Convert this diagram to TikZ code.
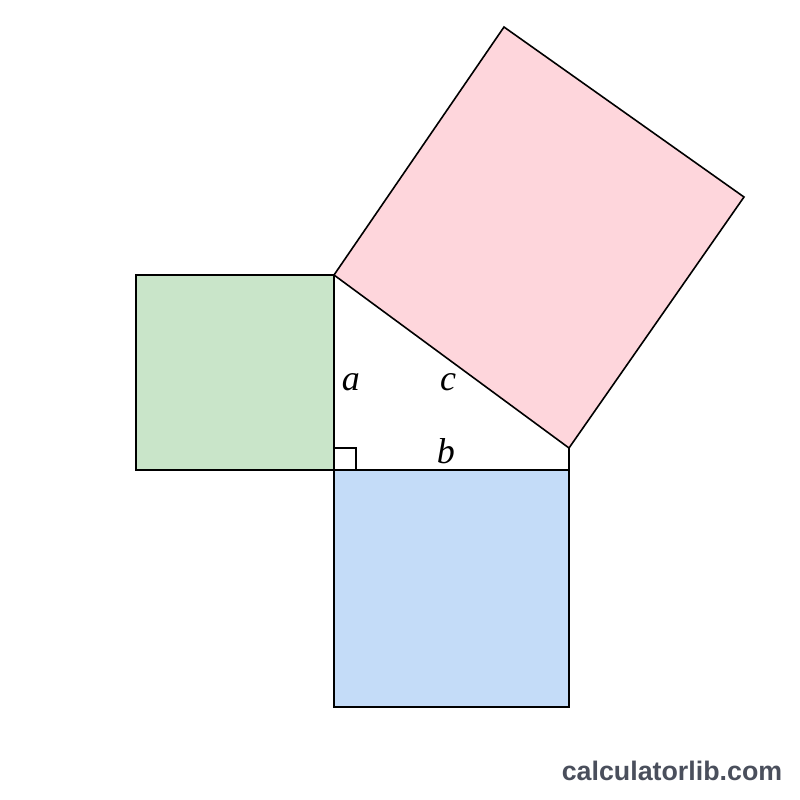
\documentclass[tikz,border=0pt]{standalone}
\usepackage{fontspec}
\setmainfont{Liberation Serif}
\newfontfamily\marksans{Liberation Sans}
\definecolor{sqgreen}{RGB}{201,229,201}
\definecolor{sqpink}{RGB}{254,214,220}
\definecolor{sqblue}{RGB}{196,220,248}
\definecolor{markgray}{RGB}{74,79,92}

\begin{document}
\begin{tikzpicture}[style=thick,x=0.5pt,y=-0.5pt]
\newcommand{\lsize}{\fontsize{18}{20}\selectfont}
\useasboundingbox (0,0) rectangle (800,800);
\tikzstyle{every node}=[inner sep=0pt,anchor=base]
% triangle corners
\coordinate (A) at (334,275);
\coordinate (C) at (334,470);
\coordinate (B) at (569,470);
% square on c
\coordinate (P_1) at (504,27);
\coordinate (P_2) at (744,197);
\coordinate (P_3) at (569,448);
\draw [fill=sqgreen] (136,275) rectangle (C);
\draw [fill=sqblue] (C) rectangle (569,707);
\draw [fill=sqpink] (A) -- (P_1) -- (P_2) -- (P_3) -- cycle;
\draw (P_3) -- (B);
\draw (334,448) -| (356,470);
\node (a) at (351,390) {\lsize\textit{a}};
\node (c) at (448,390) {\lsize\textit{c}};
\node (b) at (446,463) {\lsize\textit{b}};
\node[anchor=base west,text=markgray] (mark) at (561,780) {\marksans\bfseries\fontsize{13.4}{15}\selectfont calculatorlib.com};
\end{tikzpicture}
\end{document}
